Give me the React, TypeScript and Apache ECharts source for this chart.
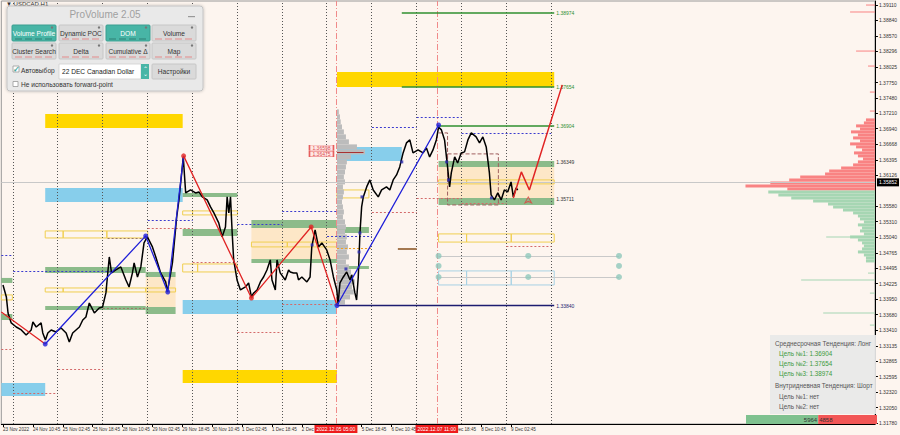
import React, { useEffect, useRef } from 'react';
import * as echarts from 'echarts';

// ---------- axis definitions ----------
const timeLabelHours = [0, 16, 32, 48, 64, 80, 96, 112, 128, 144, 160, 192, 208, 240, 256, 272];
const timeLabels = ['23 Nov 2022', '24 Nov 10:45', '25 Nov 02:45', '25 Nov 18:45', '28 Nov 10:45', '29 Nov 02:45', '29 Nov 18:45', '30 Nov 10:45', '1 Dec 02:45', '1 Dec 18:45', '2 Dec 10:45', '5 Dec 18:45', '6 Dec 10:45', '7 Dec 18:45', '8 Dec 10:45', '9 Dec 02:45'];
const priceTicks = [1.3911, 1.3884, 1.3857, 1.38296, 1.38025, 1.3775, 1.3748, 1.3721, 1.3694, 1.36668, 1.36395, 1.36126, 1.3558, 1.3531, 1.3504, 1.34765, 1.34495, 1.34225, 1.3395, 1.3368, 1.3341, 1.33135, 1.32865, 1.32595, 1.3232, 1.3205, 1.3178];
const daySeparatorHours = [5.25, 29.25, 53.25, 77.25, 101.25, 125.25, 149.25, 173.25, 197.25, 221.25, 245.25, 269.25, 293.25];
const markerHours = [178.25, 232.25];
const markerLabels = ['2022.12.05 05:00', '2022.12.07 11:00'];
const currentPrice = 1.35852;

// ---------- price path (hour, price) ----------
const pricePath: [number, number][] = [
  [0, 1.34201], [1.8, 1.33991], [2.7, 1.3371], [4.4, 1.33535], [7.1, 1.33464], [9.8, 1.33412], [12.4, 1.33324], [15.1, 1.33412], [16, 1.33552], [17.8, 1.33464], [20.4, 1.33535], [21.3, 1.33359], [22.7, 1.33236], [24, 1.33359], [25.8, 1.33412], [28.4, 1.33377], [31.1, 1.33447], [33.8, 1.33359], [35.5, 1.33201], [37.3, 1.33359], [39.1, 1.33412], [40.9, 1.33464], [42.7, 1.33587], [44.4, 1.3364], [46.2, 1.33885], [48.9, 1.3371], [51.5, 1.33798], [53.3, 1.33815], [55.1, 1.34061], [56.9, 1.34692], [58.1, 1.34412], [60.4, 1.34464], [63.1, 1.34517], [65.8, 1.34289], [67.5, 1.34166], [69.3, 1.34412], [70.2, 1.34587], [72, 1.34341], [73.8, 1.34517], [75.5, 1.34938], [77.3, 1.35043], [80, 1.34868], [81.8, 1.34692], [84.4, 1.34412], [87.1, 1.34254], [88, 1.34078], [89.8, 1.34412], [90.7, 1.34587], [91.5, 1.34868], [93, 1.35394], [94.2, 1.35692], [96, 1.36271], [96.5, 1.36446], [97.8, 1.35815], [100.4, 1.35867], [103.1, 1.35815], [104.9, 1.35832], [106.7, 1.35745], [109.3, 1.35692], [111.1, 1.35569], [112.9, 1.35464], [115.5, 1.35289], [117.3, 1.35043], [119.1, 1.35218], [120, 1.35745], [120.9, 1.35464], [121.8, 1.35745], [122.7, 1.35113], [123.5, 1.3464], [125.3, 1.34289], [127.1, 1.34113], [129.8, 1.34166], [131.5, 1.34236], [133, 1.33991], [134.2, 1.34061], [136, 1.34113], [137.8, 1.34254], [139.5, 1.34341], [141.3, 1.34464], [143.1, 1.3464], [144, 1.34289], [145.8, 1.34113], [146.7, 1.3464], [148.4, 1.34412], [151.1, 1.34289], [152.9, 1.34464], [153.8, 1.34429], [155.5, 1.34412], [157.3, 1.34412], [158.2, 1.34289], [160, 1.34341], [162.7, 1.34254], [164.4, 1.34341], [165.3, 1.34868], [167.1, 1.35166], [168.9, 1.34868], [170.7, 1.34938], [173.3, 1.34815], [175.1, 1.3464], [176.9, 1.34341], [178.7, 1.34113], [179.4, 1.33868], [180.4, 1.34236], [182.2, 1.34341], [184, 1.34429], [185.8, 1.34289], [186.7, 1.34376], [188.4, 1.34061], [189.3, 1.33938], [190.2, 1.34341], [191.1, 1.35113], [192, 1.35569], [192.9, 1.35745], [194.7, 1.3592], [196.4, 1.36043], [198.2, 1.35867], [200.9, 1.35745], [202.7, 1.35867], [205.3, 1.3592], [207.1, 1.35867], [208.9, 1.36043], [210.7, 1.3613], [212.4, 1.36271], [214.2, 1.36516], [216, 1.36692], [217.8, 1.36744], [219.5, 1.36516], [222.2, 1.36569], [224.9, 1.36516], [226.7, 1.36604], [228.4, 1.36446], [230.2, 1.36569], [232, 1.36744], [233.2, 1.3697], [234.7, 1.3692], [236.4, 1.36744], [238, 1.36271], [239.1, 1.3592], [240, 1.36166], [241.8, 1.36446], [243.4, 1.36341], [245.3, 1.36516], [247.1, 1.36534], [248.9, 1.36744], [250.7, 1.36867], [253.3, 1.36797], [255.1, 1.36692], [256.9, 1.36797], [258.7, 1.36622], [260.4, 1.36166], [261.3, 1.3578], [263.1, 1.35692], [264.9, 1.35815], [266.7, 1.35692], [268.4, 1.35867], [270.2, 1.35832], [272, 1.36008], [273.2, 1.35745], [274.7, 1.35902], [275.6, 1.35867],
];

// ---------- zigzag ----------
const zigzagBlue: ([number, number] | null)[] = [[22.6, 1.33166], [76.4, 1.35061], [88.2, 1.34078], [96.7, 1.36464], null, [178.8, 1.3384], [233.2, 1.37006]];
const zigzagRed: ([number, number] | null)[] = [[-0.9, 1.33728], [22.6, 1.33166], null, [96.7, 1.36464], [133, 1.33973], [165, 1.35218], [178.8, 1.3384]];
const pivotsBlue: [number, number][] = [[22.6, 1.33166], [76.4, 1.35061], [88.2, 1.34078], [178.8, 1.3384], [233.2, 1.37006]];
const pivotsRed: [number, number][] = [[96.7, 1.36464], [133, 1.33973], [165, 1.35218]];
const forecastPath: [number, number][] = [[273.2, 1.35727], [277.5, 1.36183], [281.8, 1.35867], [299.4, 1.37709]];
const smallMarks: [number, number][] = [[165.5, 1.34903], [183.6, 1.34482], [190.6, 1.3478], [191.1, 1.35113], [192.2, 1.35745], [213.5, 1.36359], [237.5, 1.36359], [238.6, 1.36043], [261.5, 1.35727]];
const arrowMark: [number, number][] = [[281.2, 1.35745]];

// ---------- zones [h1, h2, priceTop, priceBottom] ----------
const goldZones = [[22.6, 96.2, 1.372, 1.36955], [178.8, 295.1, 1.37937, 1.37674], [96.2, 178.8, 1.3271, 1.32482]];
const blueZones = [[22.6, 96.2, 1.35902, 1.35657], [96.2, 178.8, 1.33938, 1.33692], [-0.9, 22.6, 1.32482, 1.32254], [178.8, 213.5, 1.36622, 1.36376]];
const beigeZones = [[76.4, 92.4, 1.34341, 1.33815], [133, 178.8, 1.35201, 1.34657], [233.2, 295.1, 1.36271, 1.35727]];
const greenZones = [
  [-0.9, 5, 1.34324, 1.34236], [-0.9, 5, 1.33692, 1.33587],
  [22.6, 76.4, 1.34517, 1.34412], [76.4, 92.4, 1.34429, 1.34341],
  [22.6, 76.4, 1.33833, 1.33763], [76.4, 92.4, 1.33815, 1.33692],
  [96.2, 125.5, 1.35815, 1.35745], [96.2, 125.5, 1.35183, 1.35061],
  [133, 178.8, 1.35341, 1.35201], [133, 178.8, 1.34657, 1.34587],
  [178.8, 195.9, 1.35218, 1.35113], [178.8, 195.9, 1.34534, 1.34482],
  [233.2, 295.1, 1.36376, 1.36271], [233.2, 295.1, 1.35727, 1.35604],
];
const goldOutlines = [
  [22.6, 32.2, 1.35148, 1.35025], [32.2, 55.6, 1.35148, 1.35025], [55.6, 77.5, 1.35148, 1.35025],
  [22.6, 32.2, 1.34148, 1.34078], [32.2, 55.6, 1.34148, 1.34078], [55.6, 76.4, 1.34148, 1.34078], [76.4, 92.4, 1.34148, 1.34078],
  [-0.9, 5, 1.34026, 1.33938],
  [96.2, 101.5, 1.35499, 1.35429], [101.5, 125.5, 1.35499, 1.35429],
  [96.2, 104.2, 1.34569, 1.34429], [104.2, 125.5, 1.34569, 1.34429],
  [133, 152.2, 1.34953, 1.34868], [152.2, 178.8, 1.34953, 1.34868],
  [178.8, 195.9, 1.35867, 1.35727],
  [233.2, 248.2, 1.36043, 1.35973], [248.2, 295.1, 1.36043, 1.35973],
  [233.2, 248.2, 1.35096, 1.34953], [248.2, 272.1, 1.35096, 1.34953], [272.1, 295.1, 1.35096, 1.34953],
];
const blueOutlines = [[233.2, 248.2, 1.34447, 1.34201], [248.2, 272.1, 1.34447, 1.34201], [272.1, 295.1, 1.34447, 1.34201]];

// ---------- short dotted levels [h1, h2, price] ----------
const blueDotted = [[-0.9, 5, 1.34727], [5.5, 57.8, 1.34447], [77.5, 101.5, 1.35341], [125.5, 149.5, 1.35271], [149.5, 178.8, 1.35499], [173.5, 197.5, 1.35061], [197.5, 221.5, 1.3697], [221.5, 245.5, 1.37148], [245.5, 293.5, 1.36867]];
const redDotted = [[-0.9, 5, 1.33078], [5.5, 29, 1.32307], [29.5, 53.5, 1.32728], [77.5, 101.5, 1.35201], [101.5, 125.5, 1.34605], [125.5, 149.5, 1.33377], [149.5, 178.8, 1.33868], [197.5, 221.5, 1.35482], [221.5, 245.5, 1.35727], [245.5, 269.5, 1.35639], [269.5, 293.5, 1.34885]];
const brownDotted = [[53.5, 77.5, 1.33798], [56, 77.5, 1.35025]];
const orangeDotted = [[178.8, 197.5, 1.3485]];
const brownSolid = [[211.4, 221.5, 1.34833]];
const rangeBox: [number, number][] = [[233.2, 1.36867], [238, 1.36867], [238, 1.36043]];
const rangeBox2 = [238, 265.2, 1.36499, 1.35604];

// ---------- target levels ----------
const targetLevels = [
  { h1: 213.5, h2: 295.1, price: 1.38974, text: '1.38974', kind: 'green' },
  { h1: 213.5, h2: 295.1, price: 1.37674, text: '1.37654', kind: 'green' },
  { h1: 233.2, h2: 295.1, price: 1.3699, text: '1.36904', kind: 'green' },
  { h1: 233.2, h2: 295.1, price: 1.36349, text: '1.36349', kind: 'plain' },
  { h1: 233.2, h2: 295.1, price: 1.35711, text: '1.35711', kind: 'plain' },
  { h1: 178.8, h2: 295.1, price: 1.3384, text: '1.33840', kind: 'navy' },
];

// ---------- teal markers ----------
const tealDots: [number, number][] = [[233.2, 1.3471], [233.2, 1.34534], [233.2, 1.34341], [281.2, 1.3471], [281.2, 1.34341], [329.8, 1.3471], [329.8, 1.34534], [329.8, 1.34341]];
const tealLines = [[233.2, 329.8, 1.3471], [233.2, 329.8, 1.34341]];

// ---------- session volume profile [price, length in hours] ----------
const profileStart = 178.8;
const profilePrices = [1.37236, 1.37148, 1.3706, 1.36972, 1.36885, 1.36797, 1.3671, 1.36622, 1.36534, 1.36446, 1.36359, 1.36271, 1.36183, 1.36096, 1.36008, 1.3592, 1.35832, 1.35745, 1.35657, 1.35569, 1.35481, 1.35394, 1.35306, 1.35218, 1.35131, 1.35043, 1.34955, 1.34868, 1.3478, 1.34692, 1.34605, 1.34517, 1.34429, 1.34341, 1.34254, 1.34166, 1.34078, 1.33991, 1.33903];
const profileLengths = [1, 1.6, 2, 2.7, 3.7, 4.8, 6.4, 10.7, 15, 7.5, 5.3, 4.8, 4.3, 3.7, 4.3, 3.2, 3.7, 3.2, 2.7, 3.2, 3.7, 3.2, 4.3, 4.8, 4.3, 5.3, 4.8, 5.9, 5.3, 6.4, 4.8, 6.4, 7.5, 8.5, 9.6, 8, 9, 7, 4.3];
const pocLine = [178.8, 193, 1.36534];
const pocLabels = [{ h: 170.5, price: 1.36604, text: '1.36598' }, { h: 170.5, price: 1.36497, text: '1.36475' }];

// ---------- DOM profile at right edge ----------
const axisMaxHour = 466.8;
const askPrices = [1.37095, 1.37042, 1.3699, 1.36937, 1.36885, 1.36832, 1.36779, 1.36727, 1.36674, 1.36622, 1.36569, 1.36516, 1.36464, 1.36411, 1.36359, 1.36306, 1.36253, 1.36201, 1.36148, 1.36095, 1.36043, 1.3599, 1.35938, 1.35885];
const askLengths = [4.8, 5.9, 10.1, 8, 12.8, 9.1, 11.7, 8, 13.3, 10.1, 6.9, 11.2, 9.1, 6.4, 9.1, 11.7, 18.1, 24.5, 26.7, 40, 45.9, 56, 69.3, 46.9];
const bidPrices = [1.35832, 1.3578, 1.35727, 1.35674, 1.35622, 1.35569, 1.35517, 1.35464, 1.35411, 1.35359, 1.35306, 1.35254, 1.35201, 1.35148, 1.35096, 1.35043, 1.3499, 1.34938, 1.34885, 1.34833, 1.3478, 1.34727, 1.34675, 1.34622];
const bidLengths = [57.1, 51.7, 44.8, 33.1, 25.1, 22.4, 17.1, 11.7, 9.1, 8, 5.9, 9.1, 6.9, 8, 5.9, 13.3, 9.1, 6.9, 5.9, 6.9, 9.1, 5.9, 4.8, 4.8];
const askLinePrices = [1.39112, 1.3899, 1.38305, 1.38042, 1.37586, 1.37253];
const askLineLengths = [4.8, 13.3, 10.1, 3.7, 2.7, 2.7];
const bidLinePrices = [1.35043, 1.34412, 1.34289, 1.34061, 1.3371, 1.335];
const bidLineLengths = [26.1, 3.7, 39.5, 2.7, 27.7, 2.7];
const buyVolume = 5964;
const sellVolume = 4858;

// ---------- panels text ----------
const trendLines = [
  { text: 'Среднесрочная Тенденция: Лонг', color: '#555', indent: 0 },
  { text: 'Цель №1: 1.36904', color: '#3c9a3c', indent: 4 },
  { text: 'Цель №2: 1.37654', color: '#3c9a3c', indent: 4 },
  { text: 'Цель №3: 1.38974', color: '#3c9a3c', indent: 4 },
  { text: 'Внутридневная Тенденция: Шорт', color: '#555', indent: 0 },
  { text: 'Цель №1: нет', color: '#555', indent: 4 },
  { text: 'Цель №2: нет', color: '#555', indent: 4 },
];
const buttonRows = [
  [{ t: 'Volume Profile', on: true }, { t: 'Dynamic POC', on: false }, { t: 'DOM', on: true }, { t: 'Volume', on: false }],
  [{ t: 'Cluster Search', on: false }, { t: 'Delta', on: false }, { t: 'Cumulative Δ', on: false }, { t: 'Map', on: false }],
];

const FONT = 'Liberation Sans, Arial, sans-serif';

function zoneItems(list: number[][], style: any) {
  return list.map(z => [{ coord: [z[0], z[2]], itemStyle: style }, { coord: [z[1], z[3]] }]);
}
function segItems(list: number[][], style: any) {
  return list.map(s => [{ coord: [s[0], s[2]], lineStyle: style }, { coord: [s[1], s[2]] }]);
}

export default function App() {
  const ref = useRef<HTMLDivElement>(null);
  useEffect(() => {
    if (!ref.current) return;
    const chart = echarts.init(ref.current, undefined, { renderer: 'svg' });

    const profileRender = (startMode: 'left' | 'right', step: number, color: string) => (params: any, api: any) => {
      const len = api.value(0);
      const price = api.value(1);
      const x0 = startMode === 'left' ? profileStart : axisMaxHour - len;
      const p0 = api.coord([x0, price + step / 2]);
      const p1 = api.coord([x0 + len, price - step / 2]);
      return { type: 'rect', shape: { x: p0[0], y: p0[1], width: p1[0] - p0[0], height: Math.max(1, p1[1] - p0[1]) }, style: { fill: color } };
    };

    const greenW = 131 * buyVolume / (buyVolume + sellVolume);
    const volX = 746;

    const graphic: any[] = [];
    graphic.push({ type: 'text', left: 6, top: 1, z: 50, style: { text: '▼ USDCAD,H1', fill: '#333', font: `6px ${FONT}` } });
    // ProVolume panel
    graphic.push({ type: 'rect', z: 60, shape: { x: 7, y: 6, width: 196, height: 85, r: 3 }, style: { fill: '#e9e9e9', stroke: '#c4c4c4', lineWidth: 1, shadowBlur: 3, shadowColor: 'rgba(0,0,0,0.25)' } });
    graphic.push({ type: 'text', z: 61, style: { text: 'ProVolume 2.05', x: 105, y: 14, align: 'center', verticalAlign: 'middle', fill: '#a0a0a0', font: `10px ${FONT}` } });
    graphic.push({ type: 'rect', z: 61, shape: { x: 188, y: 16, width: 7, height: 1.2 }, style: { fill: '#999' } });
    const bx = [12, 59, 106, 152];
    const by = [25, 43];
    buttonRows.forEach((row, ri) => {
      row.forEach((b, ci) => {
        graphic.push({ type: 'rect', z: 61, shape: { x: bx[ci], y: by[ri], width: 44, height: 16, r: 1 }, style: { fill: b.on ? '#48b5a6' : '#dadada', stroke: b.on ? '#3a9e90' : '#c6c6c6', lineWidth: 1 } });
        graphic.push({ type: 'text', z: 62, style: { text: b.t, x: bx[ci] + 22, y: by[ri] + 8, align: 'center', verticalAlign: 'middle', fill: b.on ? '#fff' : '#333', font: `6.6px ${FONT}` } });
        graphic.push({ type: 'circle', z: 62, shape: { cx: bx[ci] + 40, cy: by[ri] + 2.5, r: 1.2 }, style: { fill: '#777' } });
        for (let k = 0; k < 4; k++) {
          graphic.push({ type: 'rect', z: 62, shape: { x: bx[ci] + 3 + k * 10, y: by[ri] + 13.5, width: 7, height: 1 }, style: { fill: b.on ? '#2e7f74' : '#e58a8a' } });
        }
      });
    });
    graphic.push({ type: 'rect', z: 61, shape: { x: 13, y: 66, width: 6, height: 6 }, style: { fill: '#fff', stroke: '#999', lineWidth: 0.8 } });
    graphic.push({ type: 'text', z: 62, style: { text: '✓', x: 13, y: 69, verticalAlign: 'middle', fill: '#3aa597', font: `bold 8px ${FONT}` } });
    graphic.push({ type: 'text', z: 62, style: { text: 'Автовыбор', x: 21, y: 70, verticalAlign: 'middle', fill: '#333', font: `6.6px ${FONT}` } });
    graphic.push({ type: 'rect', z: 61, shape: { x: 59, y: 64, width: 82, height: 15 }, style: { fill: '#fff', stroke: '#cfcfcf', lineWidth: 0.8 } });
    graphic.push({ type: 'text', z: 62, style: { text: '22 DEC Canadian Dollar', x: 62, y: 71.5, verticalAlign: 'middle', fill: '#222', font: `6.6px ${FONT}` } });
    graphic.push({ type: 'rect', z: 61, shape: { x: 141, y: 64, width: 8, height: 15 }, style: { fill: '#48b5a6' } });
    graphic.push({ type: 'text', z: 62, style: { text: '⌃', x: 145, y: 68.5, align: 'center', verticalAlign: 'middle', fill: '#fff', font: `6px ${FONT}` } });
    graphic.push({ type: 'text', z: 62, style: { text: '⌄', x: 145, y: 74, align: 'center', verticalAlign: 'middle', fill: '#fff', font: `6px ${FONT}` } });
    graphic.push({ type: 'rect', z: 61, shape: { x: 152, y: 64, width: 44, height: 15, r: 1 }, style: { fill: '#dadada', stroke: '#c6c6c6', lineWidth: 1 } });
    graphic.push({ type: 'text', z: 62, style: { text: 'Настройки', x: 174, y: 71.5, align: 'center', verticalAlign: 'middle', fill: '#333', font: `6.6px ${FONT}` } });
    graphic.push({ type: 'rect', z: 61, shape: { x: 13, y: 81.5, width: 5, height: 5 }, style: { fill: '#fff', stroke: '#999', lineWidth: 0.8 } });
    graphic.push({ type: 'text', z: 62, style: { text: 'Не использовать forward-point', x: 21, y: 84, verticalAlign: 'middle', fill: '#333', font: `6.6px ${FONT}` } });

    // trend info panel
    graphic.push({ type: 'rect', z: 40, shape: { x: 770, y: 335, width: 106, height: 79 }, style: { fill: 'rgba(232,232,232,0.93)' } });
    const ty = [343, 353, 363, 373, 385, 396, 406];
    trendLines.forEach((l, i) => {
      graphic.push({ type: 'text', z: 41, style: { text: l.text, x: 775 + l.indent, y: ty[i], verticalAlign: 'middle', fill: l.color, font: `6.3px ${FONT}` } });
    });
    // volume bar
    graphic.push({ type: 'rect', z: 40, shape: { x: volX, y: 415, width: greenW, height: 9 }, style: { fill: '#7fc18f' } });
    graphic.push({ type: 'rect', z: 40, shape: { x: volX + greenW, y: 415, width: 131 - greenW, height: 9 }, style: { fill: '#f25656' } });
    graphic.push({ type: 'text', z: 41, style: { text: String(buyVolume), x: volX + greenW - 1, y: 419.5, align: 'right', verticalAlign: 'middle', fill: '#333', font: `6px ${FONT}` } });
    graphic.push({ type: 'text', z: 41, style: { text: String(sellVolume), x: volX + greenW + 1, y: 419.5, verticalAlign: 'middle', fill: '#333', font: `6px ${FONT}` } });

    const option: any = {
      animation: false,
      backgroundColor: '#fdf5ef',
      textStyle: { fontFamily: FONT },
      grid: { left: 0, right: 23, top: 1, bottom: 11, show: true, borderColor: '#9a9a9a', borderWidth: 1, backgroundColor: 'transparent' },
      xAxis: {
        type: 'value', min: -0.9, max: axisMaxHour,
        axisLine: { show: true, onZero: false, lineStyle: { color: '#000', width: 1 } },
        axisTick: { show: true, customValues: timeLabelHours, length: 3, lineStyle: { color: '#000' } },
        axisLabel: { show: true, customValues: timeLabelHours, hideOverlap: false, align: 'left', margin: 2.5, fontSize: 4.6, color: '#333', formatter: (v: number) => timeLabels[timeLabelHours.indexOf(Math.round(v))] ?? '' },
        splitLine: { show: false },
      },
      yAxis: {
        type: 'value', position: 'right', min: 1.31763, max: 1.3918,
        axisLine: { show: true, onZero: false, lineStyle: { color: '#000', width: 1 } },
        axisTick: { show: true, customValues: priceTicks, length: 3, lineStyle: { color: '#000' } },
        axisLabel: { show: true, customValues: priceTicks, hideOverlap: false, margin: 4, fontSize: 5, color: '#333', formatter: (v: number) => v.toFixed(5) },
        splitLine: { show: false },
      },
      graphic,
      series: [
        {
          type: 'line', data: [], z: 1, silent: true,
          markArea: {
            silent: true,
            data: [
              ...zoneItems(beigeZones, { color: 'rgba(252,226,186,0.75)' }),
              ...zoneItems(goldZones, { color: '#ffd700' }),
              ...zoneItems(blueZones, { color: '#87ceeb' }),
              ...zoneItems(greenZones, { color: 'rgba(120,176,120,0.85)' }),
            ],
          },
        },
        {
          type: 'line', data: [], z: 2, silent: true,
          markArea: {
            silent: true,
            data: [
              ...zoneItems(goldOutlines, { color: 'rgba(0,0,0,0)', borderColor: '#f0cf50', borderWidth: 1 }),
              ...zoneItems(blueOutlines, { color: 'rgba(0,0,0,0)', borderColor: '#a8d2e4', borderWidth: 1 }),
              ...zoneItems([rangeBox2], { color: 'rgba(0,0,0,0)', borderColor: '#a06060', borderWidth: 1, borderType: 'dashed' }),
            ],
          },
        },
        {
          type: 'line', data: [], z: 9, silent: true,
          markLine: {
            silent: true, symbol: ['none', 'none'],
            data: [
              ...daySeparatorHours.map(h => ({ xAxis: h, lineStyle: { color: '#555', type: [1, 2], width: 1 }, label: { show: false } })),
              ...markerHours.map((h, i) => ({
                xAxis: h, lineStyle: { color: '#f08a8a', type: [6, 2, 1, 2], width: 1 },
                label: { show: true, position: 'start', formatter: markerLabels[i], backgroundColor: '#ee1c1c', color: '#fff', fontSize: 5, padding: [1.5, 2], distance: 1 },
              })),
            ],
          },
        },
        {
          type: 'line', data: [], z: 3, silent: true,
          markLine: {
            silent: true, symbol: ['none', 'none'], label: { show: false },
            data: [
              ...segItems(blueDotted, { color: '#3b3bcf', type: [2, 2], width: 1 }),
              ...segItems(redDotted, { color: '#d46a6a', type: [2, 2], width: 1 }),
              ...segItems(brownDotted, { color: '#9c7a66', type: [2, 2], width: 1 }),
              ...segItems(orangeDotted, { color: '#f0a020', type: [2, 2], width: 1 }),
              ...segItems(brownSolid, { color: '#a47850', type: 'solid', width: 2 }),
              ...segItems(tealLines, { color: '#c9c9c9', type: 'solid', width: 1 }),
              ...segItems([pocLine], { color: '#a83232', type: 'solid', width: 1 }),
            ],
          },
        },
        {
          type: 'line', data: [], z: 3, silent: true,
          markLine: {
            silent: true, symbol: ['none', 'none'],
            data: [{ yAxis: currentPrice, lineStyle: { color: '#c8c8c8', width: 1, type: 'solid' }, label: { show: true, position: 'end', formatter: currentPrice.toFixed(5), backgroundColor: '#000', color: '#fff', fontSize: 5, padding: [1.5, 2], distance: 2 } }],
          },
        },
        {
          type: 'line', data: [], z: 4, silent: true,
          markLine: {
            silent: true, symbol: ['none', 'none'],
            data: targetLevels.map(l => [{
              coord: [l.h1, l.price],
              lineStyle: l.kind === 'green' ? { color: '#2f8f2f', width: 1.5, type: 'solid' } : l.kind === 'navy' ? { color: '#1c1c70', width: 1.3, type: 'solid' } : { color: 'rgba(0,0,0,0)', width: 0 },
              label: { show: true, position: 'end', formatter: l.text, fontSize: 5, distance: 2, color: l.kind === 'green' ? '#2f8f2f' : l.kind === 'navy' ? '#1c1c70' : '#333' },
            }, { coord: [l.h2, l.price] }]),
          },
        },
        {
          type: 'custom', z: 2, silent: true,
          renderItem: profileRender('left', 0.000877, '#bcbcbc'),
          encode: { x: 0, y: 1 },
          data: profilePrices.map((p, i) => [profileLengths[i], p]),
        },
        {
          type: 'custom', z: 2, silent: true,
          renderItem: profileRender('right', 0.000526, '#f98383'),
          encode: { x: 0, y: 1 },
          data: askPrices.map((p, i) => [askLengths[i], p]),
        },
        {
          type: 'custom', z: 2, silent: true,
          renderItem: profileRender('right', 0.000526, '#a6d6b3'),
          encode: { x: 0, y: 1 },
          data: bidPrices.map((p, i) => [bidLengths[i], p]),
        },
        {
          type: 'custom', z: 2, silent: true,
          renderItem: profileRender('right', 0.00012, '#f98383'),
          encode: { x: 0, y: 1 },
          data: askLinePrices.map((p, i) => [askLineLengths[i], p]),
        },
        {
          type: 'custom', z: 2, silent: true,
          renderItem: profileRender('right', 0.00012, '#a6d6b3'),
          encode: { x: 0, y: 1 },
          data: bidLinePrices.map((p, i) => [bidLineLengths[i], p]),
        },
        { type: 'line', z: 3, silent: true, data: rangeBox, showSymbol: false, lineStyle: { color: '#a06060', width: 1, type: 'dashed' } },
        { type: 'line', z: 5, silent: true, data: pricePath, showSymbol: false, lineStyle: { color: '#000', width: 1.5 } },
        { type: 'line', z: 6, silent: true, data: zigzagBlue, connectNulls: false, showSymbol: false, lineStyle: { color: '#2020d8', width: 1.3 } },
        { type: 'line', z: 6, silent: true, data: zigzagRed, connectNulls: false, showSymbol: false, lineStyle: { color: '#e02424', width: 1.3 } },
        { type: 'line', z: 6, silent: true, data: forecastPath, showSymbol: false, lineStyle: { color: '#e02424', width: 1.5 } },
        { type: 'scatter', z: 7, silent: true, data: pivotsBlue, symbolSize: 5, itemStyle: { color: '#2020d8' } },
        { type: 'scatter', z: 7, silent: true, data: pivotsRed, symbolSize: 5, itemStyle: { color: '#e02424' } },
        { type: 'scatter', z: 7, silent: true, data: smallMarks, symbol: 'rect', symbolSize: 3, itemStyle: { color: '#2a2ab0' } },
        { type: 'scatter', z: 7, silent: true, data: arrowMark, symbol: 'arrow', symbolSize: [5, 6], itemStyle: { color: 'rgba(0,0,0,0)', borderColor: '#e04040', borderWidth: 1 } },
        { type: 'scatter', z: 7, silent: true, data: tealDots, symbolSize: 6, itemStyle: { color: '#8ec8bc' } },
        {
          type: 'scatter', z: 8, silent: true, symbol: 'rect', symbolSize: [24, 5.5],
          data: pocLabels.map(p => ({ value: [p.h, p.price], label: { show: true, formatter: p.text } })),
          itemStyle: { color: '#ffe3e3', borderColor: '#e03a3a', borderWidth: 0.8 },
          label: { show: true, position: 'inside', fontSize: 5, color: '#d02020' },
        },
      ],
    };
    chart.setOption(option);
    return () => chart.dispose();
  }, []);
  return <div ref={ref} style={{ position: 'fixed', left: 0, top: 0, width: 900, height: 435 }} />;
}
